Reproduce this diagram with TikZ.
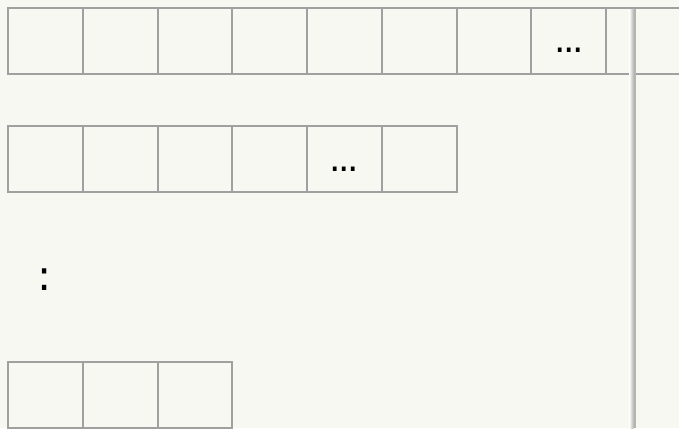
\documentclass[tikz,border=0pt]{standalone}
\usepackage{fontspec}
\newfontfamily\dotfont{DejaVu Sans}
\definecolor{bgc}{HTML}{F8F8F3}
\definecolor{linec}{HTML}{A0A0A0}
\definecolor{shadowc}{HTML}{B4B4B4}
\newcommand{\celldots}{.\kern-2.4pt.\kern-2.4pt.}
\begin{document}
\begin{tikzpicture}[x=1pt,y=-1pt,
  cell/.style={draw=linec, line width=2pt, minimum width=74.75pt, minimum height=66pt, inner sep=0pt, outer sep=0pt, anchor=north west},
  dots/.style={inner sep=0pt, anchor=base, font=\dotfont\fontsize{36}{38}\selectfont, text=black}]
\fill[bgc] (0,0) rectangle (679,428);
\useasboundingbox (0,0) rectangle (679,428);
\begin{scope}
\clip (0,0) rectangle (679,428);
% row 1
\foreach \i in {0,...,8} {
  \node[cell] (a\i) at ({8+74.75*\i},7.6) {};
}
% row 2
\foreach \i in {0,...,5} {
  \node[cell] (b\i) at ({8+74.75*\i},125.7) {};
}
% row 3
\foreach \i in {0,...,2} {
  \node[cell] (c\i) at ({8+74.75*\i},361.6) {};
}
\end{scope}
\node[dots] (d1) at (569.5,52.8) {\celldots};
\node[dots] (d2) at (344.5,171.8) {\celldots};
\node[inner sep=0pt, anchor=base, text=black, font=\dotfont\fontsize{42}{44}\selectfont] (d3) at (45,290.2) {:};
% panel edge shadow
\shade[left color=bgc, right color=shadowc] (629.5,9.5) rectangle (633.6,428);
\fill[shadowc] (633.6,9.5) rectangle (636.3,428);
\end{tikzpicture}
\end{document}
